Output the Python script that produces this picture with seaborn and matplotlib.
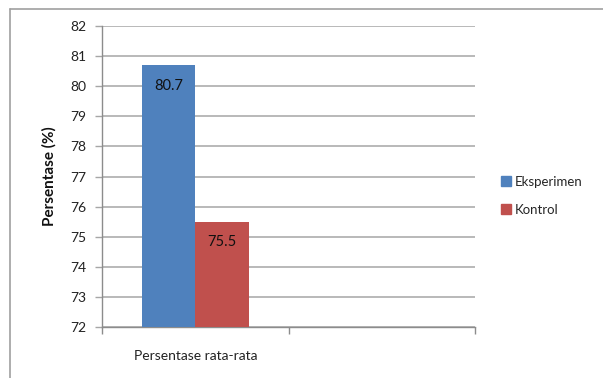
import matplotlib
matplotlib.use("Agg")
import matplotlib.pyplot as plt
import seaborn as sns
import pandas as pd
from matplotlib.lines import Line2D

categories = ["Persentase rata-rata"]
groups = ["Eksperimen", "Kontrol"]
values = [80.7, 75.5]
yticks = [72, 73, 74, 75, 76, 77, 78, 79, 80, 81, 82]

colors = {"Eksperimen": "#4F81BD", "Kontrol": "#C0504D"}

sns.set_theme(style="white")
plt.rcParams['font.family'] = ['Lato', 'DejaVu Sans']

df = pd.DataFrame({"cat": categories * len(groups), "grp": groups, "val": values})

fig = plt.figure(figsize=(6.03, 3.78), dpi=100)
ax = fig.add_axes([102/603, 1-327/378, (475-102)/603, (327-26)/378])

sns.barplot(data=df, x="cat", y="val", hue="grp", palette=colors, width=0.575,
            ax=ax, legend=False, saturation=1, edgecolor="none", zorder=3)

ax.set_ylim(72, 82)
ax.set_xlim(-0.5, 1.5)
ax.set_yticks(yticks)
ax.set_yticklabels([str(t) for t in yticks], fontsize=10, color="#222222")
ax.yaxis.grid(True, color="#A6A6A6", linewidth=1.1, zorder=0)
ax.set_axisbelow(True)

# category boundary ticks on x-axis
ax.set_xticks([-0.5, 0.5, 1.5])
ax.set_xticklabels(["", "", ""])
ax.tick_params(axis="x", bottom=True, length=5, color="#8C8C8C", width=1)
ax.tick_params(axis="y", left=True, length=5, color="#A6A6A6", width=1, pad=6)
for i, c in enumerate(categories):
    ax.text(i, -0.095, c, transform=ax.get_xaxis_transform(), ha="center", va="center",
            fontsize=10, color="#222222")

for s in ["top", "right"]:
    ax.spines[s].set_visible(False)
for s in ["left", "bottom"]:
    ax.spines[s].set_color("#8C8C8C")
    ax.spines[s].set_linewidth(1)

ax.set_xlabel("")
ax.set_ylabel("Persentase (%)", fontsize=11, fontweight="bold", color="#111111", labelpad=10)

for cont in ax.containers:
    for bar in cont:
        h = bar.get_height()
        ax.annotate(f"{h:.1f}", (bar.get_x() + bar.get_width()/2, h), xytext=(0, -15),
                    textcoords="offset points", ha="center", va="center", fontsize=10.5,
                    color="#111111", zorder=5)

handles = [Line2D([], [], marker="s", linestyle="none", markersize=6.5,
                  markerfacecolor=colors[g], markeredgecolor=colors[g]) for g in groups]
fig.legend(handles, groups, loc="center left", bbox_to_anchor=(486/603, 1-196/378),
           frameon=False, fontsize=9.5, handletextpad=0.1, handlelength=1.2,
           labelspacing=1.2)

# outer frame lines
fig.add_artist(Line2D([10/603, 1], [1-9/378, 1-9/378], transform=fig.transFigure,
                      color="#A0A0A0", linewidth=1.2))
fig.add_artist(Line2D([10/603, 10/603], [0, 1-9/378], transform=fig.transFigure,
                      color="#A0A0A0", linewidth=1.2))

fig.savefig("out.png", dpi=100)
